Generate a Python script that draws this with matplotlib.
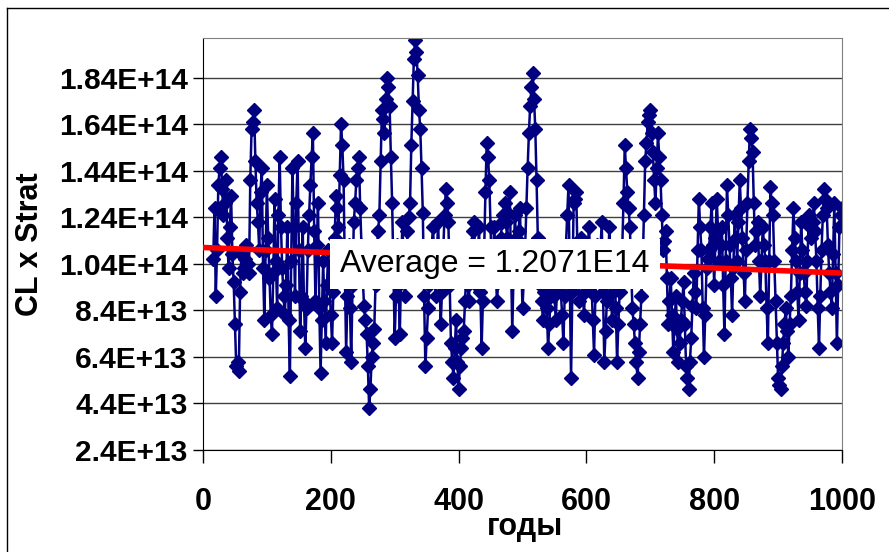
import numpy as np
import matplotlib
matplotlib.use('Agg')
import matplotlib.pyplot as plt
from matplotlib.lines import Line2D

# values, in units of 1E14
# clx: years 16, 20, 24, ... 1000; clx_mid: years 18, 22, ... 998
years = np.arange(16, 1001, 2)
clx = [
    1.06, 0.90, 1.38, 1.50, 1.25, 1.40, 1.02, 1.33, 0.96, 0.60,
    0.58, 1.08, 1.02, 1.12, 1.00, 1.62, 1.70, 1.30, 1.10, 1.45,
    0.80, 1.38, 0.98, 0.74, 1.32, 0.85, 1.50, 1.02, 0.82, 1.20,
    0.56, 1.45, 0.90, 1.48, 0.75, 1.20, 0.68, 1.10, 1.38, 1.60,
    0.88, 1.30, 0.57, 1.05, 0.70, 1.10, 0.82, 0.92, 1.33, 1.20,
    1.64, 1.40, 0.66, 1.12, 0.62, 1.22, 1.40, 1.50, 1.12, 0.86,
    0.74, 0.42, 0.64, 0.76, 1.10, 1.25, 1.70, 1.60, 1.84, 1.72,
    1.30, 0.72, 1.12, 0.74, 1.22, 0.90, 1.18, 1.30, 1.74, 2.00,
    1.85, 1.62, 1.26, 0.60, 0.85, 1.05, 1.20, 0.90, 1.22, 0.78,
    1.10, 1.36, 1.22, 0.70, 0.55, 0.80, 0.50, 0.68, 0.75, 1.00,
    0.88, 1.12, 1.22, 0.95, 1.20, 0.68, 1.10, 1.56, 1.40, 1.00,
    1.20, 0.88, 1.05, 1.22, 1.30, 1.15, 1.35, 0.75, 1.25, 1.05,
    1.28, 0.85, 1.10, 1.45, 1.72, 1.86, 1.62, 1.15, 0.95, 0.80,
    1.05, 0.68, 0.90, 1.00, 0.80, 1.05, 0.92, 0.70, 1.12, 1.38,
    0.55, 1.30, 1.35, 0.88, 1.15, 0.82, 1.02, 1.20, 0.95, 0.65,
    1.12, 0.98, 1.22, 0.62, 0.88, 1.20, 0.80, 1.05, 0.62, 0.92,
    1.10, 1.55, 1.35, 1.20, 0.85, 0.70, 0.55, 0.78, 1.02, 1.48,
    1.65, 1.70, 1.52, 1.30, 1.60, 1.40, 1.10, 1.18, 0.78, 0.98,
    0.66, 0.90, 0.62, 0.80, 0.96, 0.60, 0.50, 0.72, 1.00, 0.85,
    1.32, 1.10, 0.64, 1.02, 1.10, 1.30, 0.95, 1.32, 1.05, 1.20,
    0.74, 1.38, 1.12, 0.82, 1.25, 1.05, 1.40, 1.15, 0.88, 1.30,
    1.62, 1.52, 1.12, 1.22, 0.90, 1.20, 1.05, 0.70, 1.37, 1.25,
    0.88, 0.55, 0.50, 0.70, 0.85, 0.64, 0.90, 1.28, 1.05, 0.80,
    1.22, 1.00, 0.86, 1.25, 1.15, 1.30, 1.05, 0.68, 1.10, 1.36,
    1.28, 1.00, 0.85, 1.30, 0.70, 1.20, 1.28,
]
clx_mid = [
    1.28, 1.10, 1.45, 1.36, 1.30, 1.15, 1.20, 1.08, 0.78, 0.62,
    0.92, 1.00, 1.06, 1.04, 1.40, 1.65, 1.48, 1.22, 1.35, 1.02,
    1.10, 1.15, 0.82, 1.00, 1.05, 1.25, 1.20, 0.90, 0.95, 0.80,
    1.05, 1.20, 1.30, 1.10, 0.90, 0.88, 0.85, 1.25, 1.50, 1.18,
    1.12, 0.85, 0.80, 0.88, 0.95, 0.96, 0.70, 1.15, 1.28, 1.42,
    1.55, 1.00, 0.90, 0.85, 0.95, 1.30, 1.45, 1.28, 0.98, 0.80,
    0.60, 0.50, 0.70, 0.95, 1.18, 1.48, 1.66, 1.75, 1.80, 1.50,
    1.00, 0.90, 0.95, 1.00, 1.05, 1.05, 1.24, 1.55, 1.92, 1.95,
    1.70, 1.45, 0.90, 0.72, 0.95, 1.12, 1.05, 1.08, 1.00, 0.92,
    1.25, 1.30, 0.95, 0.62, 0.68, 0.62, 0.60, 0.72, 0.88, 0.95,
    1.00, 1.18, 1.08, 1.08, 0.92, 0.88, 1.35, 1.50, 1.20, 1.10,
    1.02, 0.96, 1.15, 1.25, 1.22, 1.26, 1.05, 1.00, 1.15, 1.18,
    1.05, 0.98, 1.28, 1.60, 1.80, 1.75, 1.40, 1.05, 0.88, 0.92,
    0.85, 0.78, 0.95, 0.90, 0.92, 0.98, 0.82, 0.90, 1.25, 0.95,
    0.92, 1.32, 1.10, 1.02, 0.98, 0.92, 1.10, 1.08, 0.80, 0.90,
    1.05, 1.10, 0.92, 0.75, 1.05, 1.00, 0.92, 0.85, 0.78, 1.00,
    1.30, 1.45, 1.28, 1.02, 0.78, 0.62, 0.66, 0.90, 1.25, 1.56,
    1.68, 1.60, 1.40, 1.45, 1.50, 1.25, 1.14, 0.98, 0.88, 0.82,
    0.78, 0.76, 0.70, 0.88, 0.78, 0.55, 0.62, 0.86, 0.92, 1.10,
    1.20, 0.85, 0.82, 1.06, 1.20, 1.12, 1.15, 1.18, 1.12, 0.95,
    1.05, 1.25, 0.98, 1.02, 1.15, 1.22, 1.28, 1.00, 1.10, 1.48,
    1.58, 1.30, 1.18, 1.05, 1.05, 1.12, 0.85, 1.05, 1.30, 1.05,
    0.70, 0.52, 0.60, 0.78, 0.75, 0.78, 1.10, 1.15, 0.92, 1.00,
    1.10, 0.92, 1.05, 1.20, 1.22, 1.18, 0.85, 0.90, 1.25, 1.32,
    1.12, 0.92, 1.08, 1.00, 0.95, 1.25,
]
values = np.empty(len(years))
values[0::2] = clx
values[1::2] = clx_mid
values = values * 1e14

trend_years = [0, 1000]
trend_vals = [1.11e14, 1.00e14]

yticks = [2.4e13, 4.4e13, 6.4e13, 8.4e13, 1.04e14, 1.24e14, 1.44e14, 1.64e14, 1.84e14]
ytick_labels = ['2.4E+13', '4.4E+13', '6.4E+13', '8.4E+13', '1.04E+14',
                '1.24E+14', '1.44E+14', '1.64E+14', '1.84E+14']
xticks = [0, 200, 400, 600, 800, 1000]

fig = plt.figure(figsize=(8.89, 5.52), dpi=100)
ax = fig.add_axes([203 / 889, 1 - 450 / 552, 639 / 889, 412 / 552])

for v in yticks:
    ax.axhline(v, color='#404040', lw=1, zorder=1)

ax.plot(years, values, color='#000080', lw=1.8, marker='D', markersize=7.5,
        markerfacecolor='#000080', markeredgecolor='#000080', zorder=2)
ax.plot(trend_years, trend_vals, color='#ff0000', lw=4, zorder=3)

ax.text(457, 1.04e14, 'Average = 1.2071E14', fontsize=23, family='Liberation Sans',
        ha='center', va='center', zorder=4,
        bbox=dict(boxstyle='square,pad=0.32', facecolor='white', edgecolor='none'))

ax.set_xlim(0, 1000)
ax.set_ylim(2.4e13, 2.01e14)
ax.set_xticks(xticks)
ax.set_xticklabels([str(x) for x in xticks], fontsize=22, fontweight='bold',
                   family='Liberation Sans')
ax.set_yticks(yticks)
ax.set_yticklabels(ytick_labels, fontsize=21.5, fontweight='bold', family='Liberation Sans')
ax.tick_params(axis='x', direction='out', length=9, width=1, pad=18)
ax.tick_params(axis='y', direction='out', length=7, width=1, pad=4)

ax.spines['left'].set_color('black')
ax.spines['bottom'].set_color('black')
ax.spines['top'].set_color('#808080')
ax.spines['right'].set_color('#808080')

fig.text(30 / 889, 1 - 244 / 552, 'CL x Strat', rotation=90, fontsize=22,
         fontweight='bold', family='Liberation Sans', ha='center', va='center')
fig.text(525 / 889, 1 - 527 / 552, 'годы', fontsize=22, fontweight='bold',
         family='Liberation Sans', ha='center', va='center')

# outer chart border (left and top visible)
fig.add_artist(Line2D([7 / 889, 7 / 889], [0, 1 - 8 / 552], color='black', lw=1))
fig.add_artist(Line2D([7 / 889, 1], [1 - 8 / 552, 1 - 8 / 552], color='black', lw=1))

fig.savefig('out.png', dpi=100)
